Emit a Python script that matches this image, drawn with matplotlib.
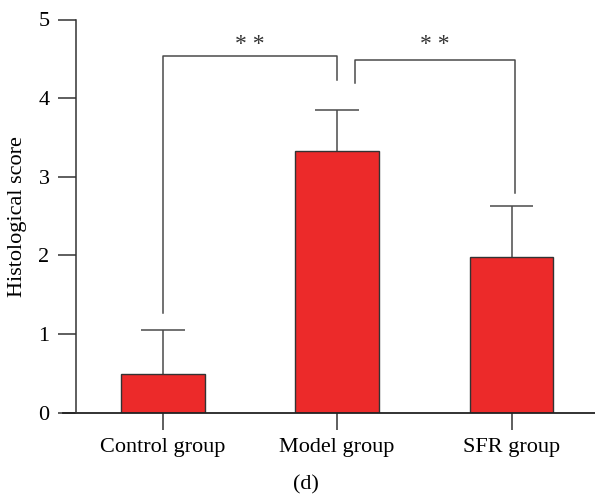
import matplotlib
matplotlib.use("Agg")
from matplotlib import pyplot as plt
import numpy as np

groups = ["Control group", "Model group", "SFR group"]
means = [0.49, 3.33, 1.98]
sds = [0.56, 0.52, 0.65]

# significance brackets: (left bar, right bar, left foot, right foot, top, label)
brackets = [
    (0, 1, 1.27, 4.23, 4.53, "* *"),
    (1, 2, 4.19, 2.80, 4.49, "* *"),
]

plt.rcParams["font.family"] = ["Liberation Serif", "DejaVu Serif"]
plt.rcParams["font.size"] = 16

line_col = "#4a4a4a"

fig = plt.figure(figsize=(5.95, 4.99), dpi=100)
ax = fig.add_axes([76 / 595, 86.3 / 499, 519 / 595, 393.2 / 499])

x = np.arange(len(groups))
ax.bar(x, means, width=0.48, color="#ec2a2a", edgecolor="#333333", linewidth=1.0, zorder=2)
# upper error bars only
tops = np.array(means) + np.array(sds)
ax.vlines(x, means, tops, color=line_col, lw=1.1, zorder=1)
ax.hlines(tops, x - 0.125, x + 0.125, color=line_col, lw=1.1, zorder=1)

for a, b, ya, yb, top, label in brackets:
    # second bracket starts a bit to the right of the model bar centre
    xa = a + (0.1 if a == 1 else 0.0)
    xb = b + (0.02 if b == 2 else 0.0)
    ax.plot([xa, xa, xb, xb], [ya, top, top, yb], color=line_col, lw=1.1,
            clip_on=False)
    ax.text((xa + xb) / 2, 4.55, label, ha="center", va="bottom",
            fontsize=17, color="#333333")

ax.set_xlim(-0.497, 2.478)
ax.set_ylim(0, 5)
ax.set_yticks([0, 1, 2, 3, 4, 5])
ax.set_xticks(x)
ax.set_xticklabels(groups)
ax.set_ylabel("Histological score", labelpad=8)

for side in ["top", "right", "bottom"]:
    ax.spines[side].set_visible(False)
ax.spines["left"].set_color("#333333")
ax.spines["left"].set_linewidth(1.1)
ax.axhline(0, xmin=-0.025, xmax=1, color="#222222", lw=1.3, clip_on=False)

ax.tick_params(axis="y", length=13, width=1.1, color="#333333", pad=6)
ax.tick_params(axis="x", length=12, width=1.1, color="#333333", pad=6)

fig.text(306 / 595, 1 - 485 / 499, "(d)", ha="center", va="center", fontsize=16)

plt.savefig("out.png", dpi=100)
